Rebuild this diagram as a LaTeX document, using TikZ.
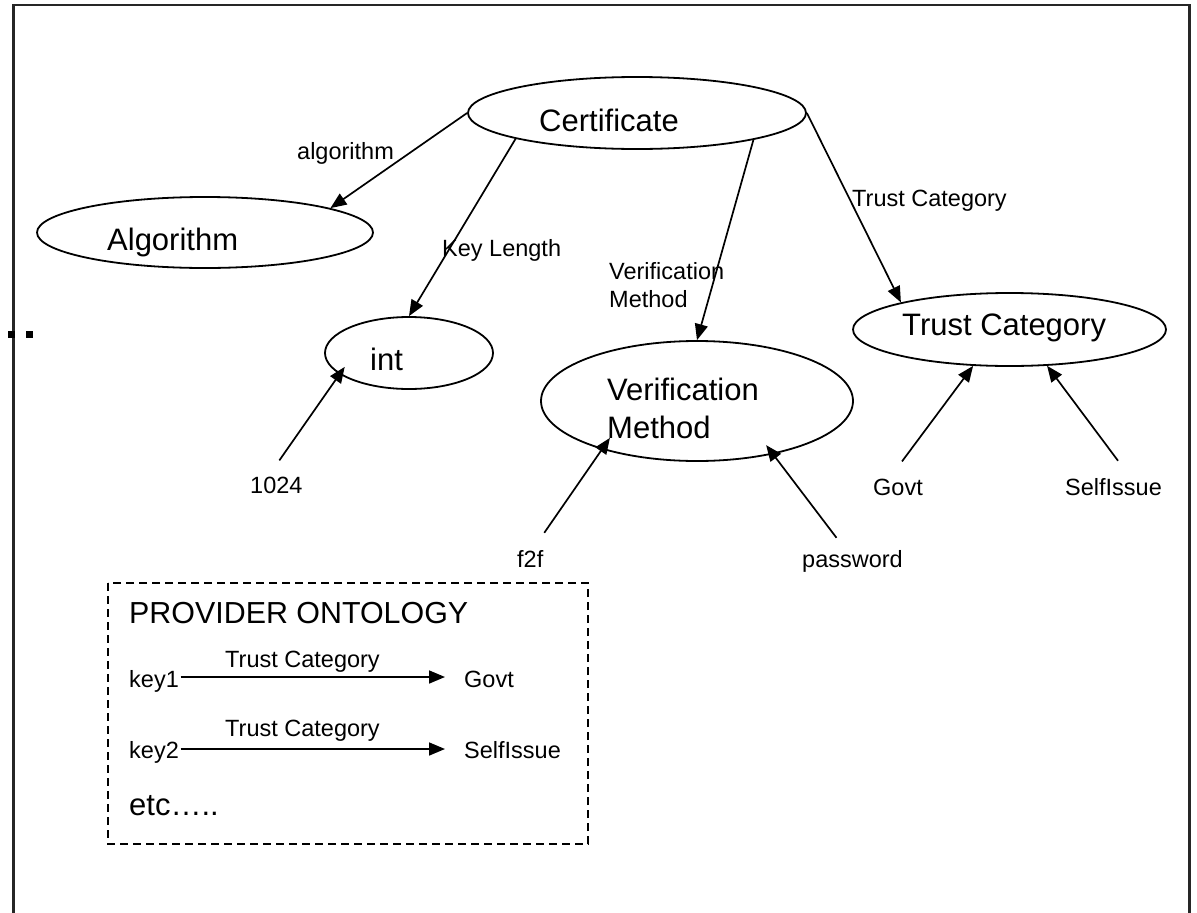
\documentclass[tikz,border=0pt]{standalone}
\usepackage{fontspec}
\setmainfont{Liberation Sans}
\usetikzlibrary{arrows.meta,shapes.geometric}

\begin{document}
\begin{tikzpicture}[x=1pt,y=-1pt,
  big/.style={font=\fontsize{31}{38}\selectfont},
  small/.style={font=\fontsize{23.5}{28}\selectfont},
  txt/.style={inner sep=0pt, anchor=base west},
  oval/.style={draw, ellipse, line width=1.8pt, inner sep=0pt},
  arr/.style={line width=1.7pt, -{Triangle[length=16pt,width=13pt]}},
]
\useasboundingbox (0,0) rectangle (1197,913);

% open page frame
\draw[line width=2.2pt, black!85] (13.5,913) -- (13.5,5) -- (1189.5,5) -- (1189.5,913);
\fill (7.5,330.5) rectangle (14.5,337.5);
\fill (26,330.5) rectangle (33,337.5);

% class ellipses
\node[oval, minimum width=338pt, minimum height=72pt] (cert) at (637,113) {};
\node[oval, minimum width=336pt, minimum height=71pt] (alg)  at (205,232.5) {};
\node[oval, minimum width=168pt, minimum height=72pt] (int)  at (409,353) {};
\node[oval, minimum width=312pt, minimum height=120pt] (vm)  at (697,401) {};
\node[oval, minimum width=313pt, minimum height=73pt] (tc)   at (1009.5,329.5) {};

% ellipse captions
\node[txt, big] (certtxt) at (539,131) {Certificate};
\node[txt, big] (algtxt)  at (107,250) {Algorithm};
\node[txt, big] (inttxt)  at (370,370) {int};
\node[txt, big] (tctxt)   at (902,335) {Trust Category};
\node[txt, big, anchor=north west, align=left] (vmtxt) at (607,377.5) {Verification\\Method};

% property labels
\node[txt, small] (lalg) at (297,159) {algorithm};
\node[txt, small] (lkey) at (442,256) {Key Length};
\node[txt, small, anchor=north west, align=left] (lvm) at (609,262) {Verification\\Method};
\node[txt, small] (ltc)  at (852,206) {Trust Category};

% instance values
\node[txt, small] (n1024) at (250,493) {1024};
\node[txt, small] (nf2f)  at (517,567) {f2f};
\node[txt, small] (npw)   at (802,567) {password};
\node[txt, small] (ngovt) at (873,495) {Govt};
\node[txt, small] (nself) at (1065,495) {SelfIssue};

% properties of Certificate
\draw[arr] (cert.west) -- (alg.11.8);
\draw[arr] (cert.192.3) -- (int.north);
\draw[arr] (cert.347.8) -- (vm.north);
\draw[arr] (cert.east) -- (tc.166.7);

% values pointing at their types
\draw[arr, shorten >=-9pt] ([xshift=3pt,yshift=16pt]n1024.north) -- (int.197.9);
\draw[arr, shorten >=-14pt] ([xshift=14pt,yshift=17pt]nf2f.north) -- (vm.207.6);
\draw[arr, shorten >=-11.5pt] ([xshift=-16pt,yshift=12pt]npw.north) -- (vm.325.4);
\draw[arr] ([xshift=4pt,yshift=17pt]ngovt.north) -- (tc.225.8);
\draw[arr] ([xshift=4.5pt,yshift=17pt]nself.north) -- (tc.316.5);

% provider ontology box
\draw[line width=1.9pt, dash pattern=on 8pt off 5pt] (108,583) rectangle (588,844);
\node[txt, font=\fontsize{30.4}{36}\selectfont] (prov) at (129,623) {PROVIDER ONTOLOGY};
\node[txt, small] (tc1)  at (225,667) {Trust Category};
\node[txt, small] (key1) at (129,687) {key1};
\node[txt, small] (gv1)  at (464,687) {Govt};
\node[txt, small] (tc2)  at (225,736) {Trust Category};
\node[txt, small] (key2) at (129,758) {key2};
\node[txt, small] (si2)  at (464,758) {SelfIssue};
\node[txt, big] (etc) at (129,815) {etc\ldots..};

\draw[arr, shorten <=1.5pt, shorten >=19pt] ([yshift=10pt]key1.base east) -- ([yshift=10pt]gv1.base west);
\draw[arr, shorten <=1.5pt, shorten >=19pt] ([yshift=9pt]key2.base east) -- ([yshift=9pt]si2.base west);
\end{tikzpicture}
\end{document}
